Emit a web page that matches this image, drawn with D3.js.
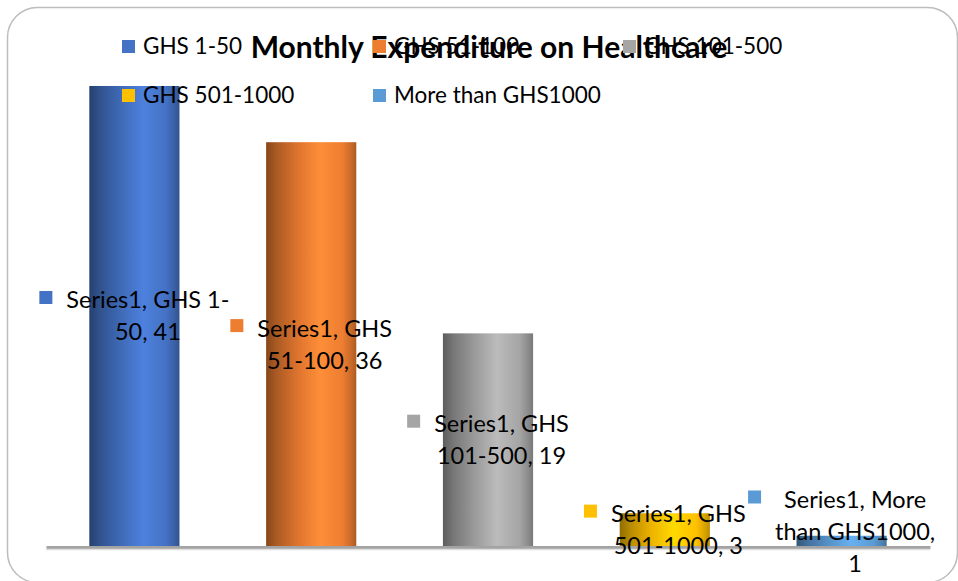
<!DOCTYPE html>
<html>
<head>
<meta charset="utf-8">
<script src="https://cdn.jsdelivr.net/npm/d3@7"></script>
<style>
  body { margin: 0; background: #fff; }
  svg { display: block; font-family: Lato, "Noto Sans", sans-serif; }
</style>
</head>
<body>
<div id="chart"></div>
<script>
// données du graphique
const categories = ["GHS 1-50", "GHS 51-100", "GHS 101-500", "GHS 501-1000", "More than GHS1000"];
const values = [41, 36, 19, 3, 1];
const colors = ["#4472C4", "#ED7D31", "#A5A5A5", "#FFC000", "#5B9BD5"];
// étiquettes telles qu'Excel les a coupées
const labelLines = [
  ["Series1, GHS 1-", "50, 41"],
  ["Series1, GHS", "51-100, 36"],
  ["Series1, GHS", "101-500, 19"],
  ["Series1, GHS", "501-1000, 3"],
  ["Series1, More", "than GHS1000,", "1"]
];
const title = "Monthly Expenditure on Healthcare";

const W = 958, H = 581;
const svg = d3.select("#chart").append("svg")
  .attr("width", W).attr("height", H);

// cadre arrondi
svg.append("rect")
  .attr("x", 7.5).attr("y", 7.5)
  .attr("width", 950).attr("height", 575)
  .attr("rx", 30)
  .attr("fill", "#fff")
  .attr("stroke", "#bdbdbd")
  .attr("stroke-width", 1.5);

// échelles
const x = d3.scaleBand()
  .domain(categories)
  .range([46, 930])
  .paddingInner(0.49)
  .paddingOuter(0.245);

const y = d3.scaleLinear()
  .domain([0, 45])
  .range([547, 41]);

// dégradés "cylindre"
const defs = svg.append("defs");
colors.forEach((c, i) => {
  const g = defs.append("linearGradient")
    .attr("id", "grad" + i)
    .attr("x1", "0%").attr("x2", "100%").attr("y1", "0%").attr("y2", "0%");
  const base = d3.color(c);
  [[0, base.darker(1.6)], [0.12, base.darker(0.9)], [0.35, base.darker(0.2)],
   [0.6, base.brighter(0.35)], [0.85, base], [0.95, base.darker(0.5)], [1, base.darker(0.9)]]
    .forEach(([o, col]) => g.append("stop").attr("offset", o).attr("stop-color", col));
});

// barres
svg.selectAll(".bar")
  .data(values)
  .enter().append("rect")
  .attr("class", "bar")
  .attr("x", (d, i) => x(categories[i]))
  .attr("y", d => y(d))
  .attr("width", x.bandwidth())
  .attr("height", d => y(0) - y(d))
  .attr("fill", (d, i) => `url(#grad${i})`);

// ligne de base (axe sans graduations)
const axis = svg.append("g")
  .attr("transform", `translate(0, ${y(0)})`)
  .call(d3.axisBottom(x).tickSize(0).tickFormat(""));
axis.select(".domain").attr("stroke", "#a3a3a3").attr("stroke-width", 3);
svg.append("line")
  .attr("x1", x.range()[0]).attr("x2", x.range()[1])
  .attr("y1", y(0) + 2.5).attr("y2", y(0) + 2.5)
  .attr("stroke", "#dedede").attr("stroke-width", 1.5);

// étiquettes de données
const lineH = 32, fs = 23.5, keySize = 13, keyGap = 14;
values.forEach((v, i) => {
  const lines = labelLines[i];
  const g = svg.append("g");
  const txt = g.append("text")
    .attr("font-size", fs)
    .attr("fill", "#000")
    .attr("text-anchor", "middle");
  lines.forEach((l, k) => txt.append("tspan").attr("x", 0).attr("dy", k ? lineH : 0).text(l));
  const tw = d3.max(txt.selectAll("tspan").nodes(), n => n.getComputedTextLength());
  const blockW = keySize + keyGap + tw;
  const cx = x(categories[i]) + x.bandwidth() / 2;
  const left = cx - blockW / 2;
  const mid = (y(v) + y(0)) / 2;
  let base1 = mid - (lines.length - 1) * lineH / 2 + 8;
  const maxLast = 572;
  if (base1 + (lines.length - 1) * lineH > maxLast) base1 = maxLast - (lines.length - 1) * lineH;
  txt.attr("transform", `translate(${left + keySize + keyGap + tw / 2}, ${base1})`);
  g.insert("rect", "text")
    .attr("x", left).attr("y", base1 - 11 - keySize / 2)
    .attr("width", keySize).attr("height", keySize)
    .attr("fill", colors[i]);
});

// titre
svg.append("text")
  .attr("x", 489).attr("y", 58)
  .attr("text-anchor", "middle")
  .attr("font-size", 30)
  .attr("font-weight", "bold")
  .attr("fill", "#000")
  .text(title);

// légende
const legendPos = [[122, 54], [373, 54], [623, 54], [122, 103], [373, 103]];
const legend = svg.selectAll(".legend")
  .data(categories)
  .enter().append("g")
  .attr("class", "legend")
  .attr("transform", (d, i) => `translate(${legendPos[i][0]}, ${legendPos[i][1]})`);
legend.append("rect")
  .attr("x", 0).attr("y", -14)
  .attr("width", 13).attr("height", 13)
  .attr("fill", (d, i) => colors[i]);
legend.append("text")
  .attr("x", 21).attr("y", 0)
  .attr("font-size", 22.5)
  .attr("fill", "#000")
  .text(d => d);
</script>
</body>
</html>
